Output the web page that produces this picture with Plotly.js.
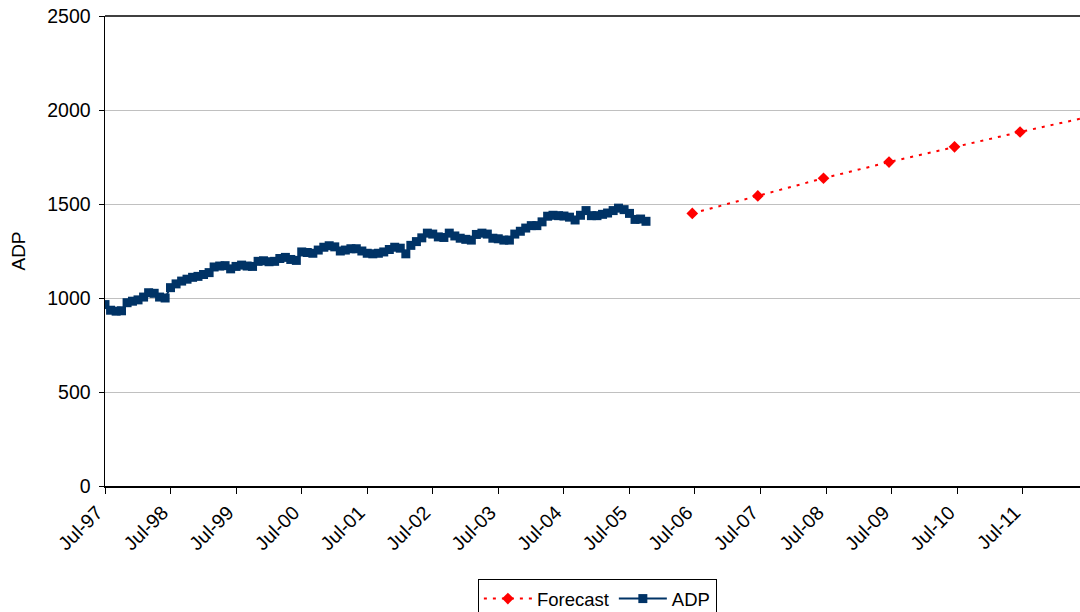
<!DOCTYPE html>
<html>
<head>
<meta charset="utf-8">
<script src="https://cdn.plot.ly/plotly-3.0.1.min.js"></script>
<style>
  html, body { margin: 0; padding: 0; background: #ffffff; overflow: hidden; }
  #chart { width: 1080px; height: 640px; }
</style>
</head>
<body>
<div id="chart"></div>
<script>
// Monthly ADP, July 1997 through October 2005
const adpStart = { year: 1997, month: 7 };
const adpValues = [
  965, 935, 930, 932, 975, 983, 990, 1005, 1028, 1025, 1005, 1000,
  1055, 1075, 1090, 1100, 1110, 1115, 1125, 1135, 1165, 1170, 1172, 1155,
  1168, 1175, 1170, 1168, 1195, 1198, 1193, 1195, 1210, 1216, 1205, 1200,
  1245, 1242, 1238, 1255, 1270, 1278, 1272, 1250, 1255, 1262, 1262, 1250,
  1238, 1235, 1238, 1245, 1258, 1270, 1265, 1235, 1280, 1300, 1320, 1345,
  1340, 1325, 1322, 1345, 1330, 1318, 1312, 1308, 1338, 1345, 1340, 1318,
  1315, 1308, 1308, 1340, 1355, 1372, 1385, 1385, 1405, 1435, 1440, 1438,
  1436, 1430, 1415, 1440, 1465, 1438, 1438, 1445, 1452, 1465, 1478, 1470,
  1450, 1418, 1420, 1408
];

// Annual forecast points
const forecastDates = ['2006-06-16', '2007-06-16', '2008-06-16', '2009-06-16',
                       '2010-06-16', '2011-06-16', '2012-06-16'];
const forecastValues = [1450, 1543, 1637, 1723, 1804, 1883, 1960];

// Axis settings
const xRange = ['1997-07-01', '2012-05-15'];
const xTick0 = '1997-07-01';
const yTickVals = [0, 500, 1000, 1500, 2000, 2500];

function monthDates(start, count) {
  const out = [];
  for (let i = 0; i < count; i++) {
    const m0 = start.month - 1 + i;
    const y = start.year + Math.floor(m0 / 12);
    const m = (m0 % 12) + 1;
    out.push(y + '-' + String(m).padStart(2, '0') + '-01');
  }
  return out;
}
const adpDates = monthDates(adpStart, adpValues.length);

const FONT = 'Liberation Sans, Arial, sans-serif';

const traces = [
  {
    type: 'scatter', mode: 'lines+markers', name: 'Forecast',
    x: forecastDates, y: forecastValues,
    line: { color: '#ff0000', width: 2, dash: '3px,6px' },
    marker: { symbol: 'diamond', size: 9, color: '#ff0000' }
  },
  {
    type: 'scatter', mode: 'lines+markers', name: 'ADP',
    x: adpDates, y: adpValues,
    line: { color: '#003366', width: 2 },
    marker: { symbol: 'square', size: 9, color: '#003366' }
  }
];

const layout = {
  width: 1080, height: 640,
  margin: { l: 105, r: 0, t: 16, b: 154 },
  paper_bgcolor: '#ffffff', plot_bgcolor: '#ffffff',
  font: { family: FONT, size: 19, color: '#000000' },
  showlegend: true,
  legend: {
    orientation: 'h', x: 0.505, xanchor: 'center', y: -0.198, yanchor: 'top',
    bordercolor: '#000000', borderwidth: 1, bgcolor: '#ffffff',
    font: { family: FONT, size: 18.5, color: '#000000' },
    itemwidth: 48, traceorder: 'normal'
  },
  xaxis: {
    type: 'date', range: xRange,
    tick0: xTick0, dtick: 'M12', tickformat: '%b-%y',
    tickangle: -45, ticks: 'outside', ticklen: 6, tickcolor: '#000000',
    ticklabelshift: -8,
    showline: true, linecolor: '#000000', linewidth: 1.5,
    showgrid: false, zeroline: false,
    tickfont: { family: FONT, size: 19.5, color: '#000000' }
  },
  yaxis: {
    range: [0, 2500], tickvals: yTickVals,
    ticks: 'outside', ticklen: 5, tickcolor: '#000000',
    ticklabelstandoff: 4,
    showline: true, linecolor: '#000000', linewidth: 1.5,
    showgrid: true, gridcolor: '#c0c0c0', gridwidth: 1,
    zeroline: false,
    tickfont: { family: FONT, size: 19.5, color: '#000000' },
    title: { text: 'ADP', standoff: 16, font: { family: FONT, size: 19, color: '#000000' } }
  },
  shapes: [
    { type: 'line', xref: 'paper', yref: 'paper', x0: 0, x1: 1, y0: 1, y1: 1,
      line: { color: '#000000', width: 1.5 } }
  ]
};

Plotly.newPlot('chart', traces, layout, { displayModeBar: false, staticPlot: true });
</script>
</body>
</html>
